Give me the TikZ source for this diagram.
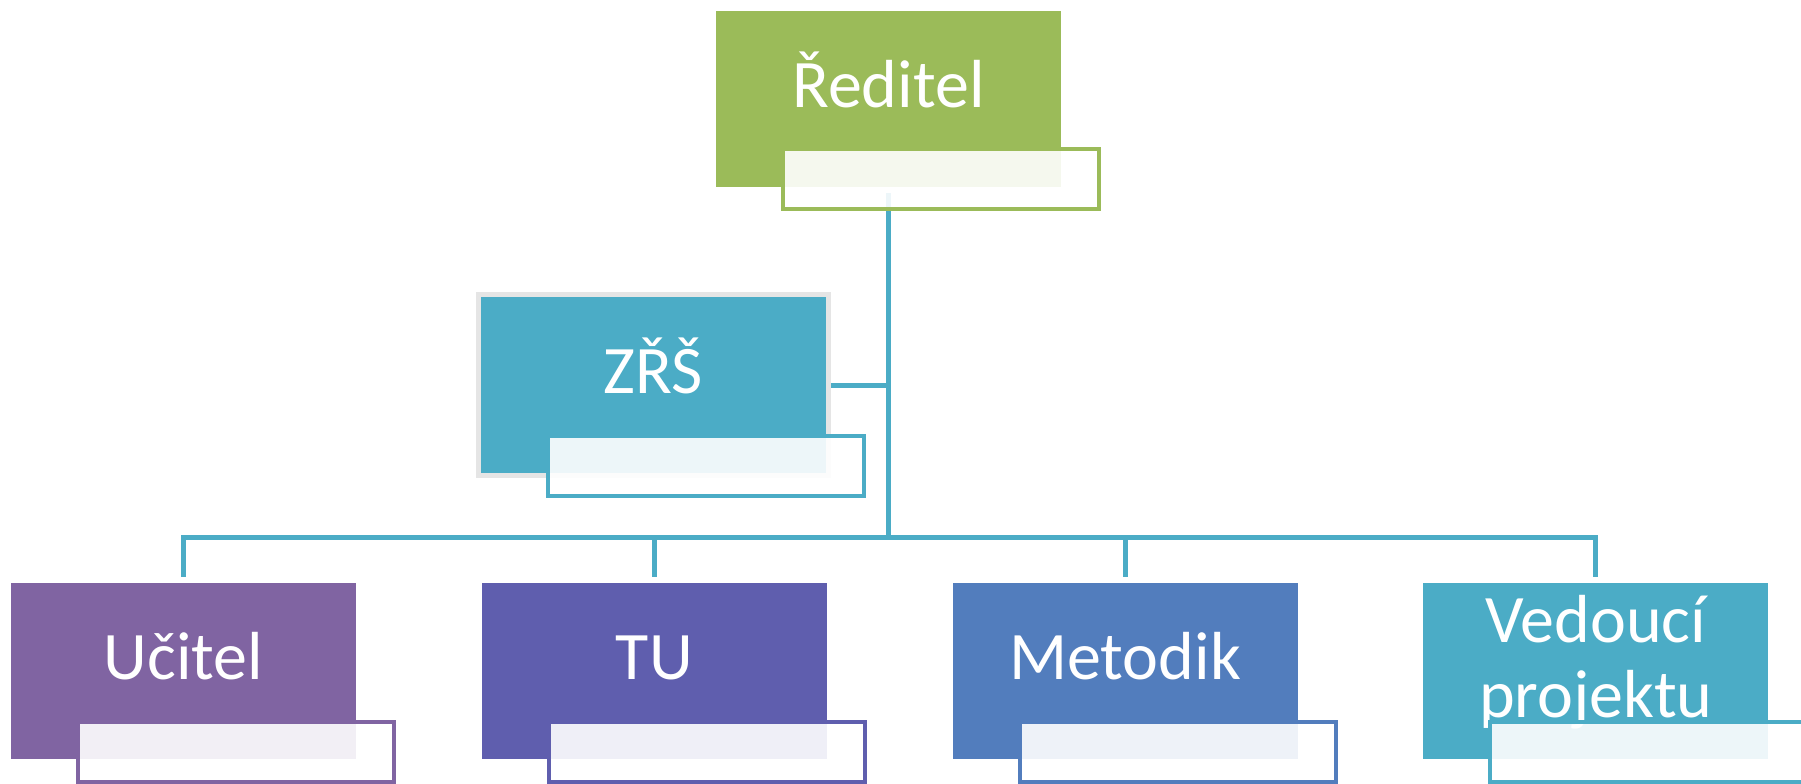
\documentclass[tikz,border=0pt]{standalone}
\usepackage{fontspec}
\setmainfont{Carlito}
\usetikzlibrary{positioning}
\definecolor{grn}{HTML}{9BBB59}
\definecolor{lnk}{HTML}{4BACC6}
\definecolor{purp}{HTML}{8064A2}
\definecolor{indg}{HTML}{5F5EAE}
\definecolor{blu}{HTML}{527DBD}

\begin{document}
\begin{tikzpicture}[x=0.5pt, y=0.5pt, node distance=62.5pt,
    post/.style={rectangle, fill=#1, text=white, inner sep=0pt, minimum width=172.5pt, minimum height=88pt,
      font=\fontsize{34}{37.5}\selectfont, text height=20pt, text depth=11.5pt},
    tag/.style={rectangle, draw=#1, line width=2pt, fill=white, fill opacity=0.9, draw opacity=1,
      minimum width=158pt, minimum height=30pt, inner sep=0pt},
    link/.style={draw=lnk, line width=2.5pt}]
    \useasboundingbox (0,0) rectangle (1801,-783);

    % posts
    \node[post=grn] (reditel) at (888.5,-98.5) {Ředitel};
    \node[post=lnk, draw=black!10, line width=2.5pt, minimum width=175pt, minimum height=90.5pt] (zrs) at (653.5,-385) {ZŘŠ};
    \node[post=purp] (ucitel) at (183.5,-671) {Učitel};
    \node[post=indg, right=of ucitel] (tu) {TU};
    \node[post=blu, right=of tu] (metodik) {Metodik};
    \node[post=lnk, right=of metodik, align=center, text height=57.5pt] (vedouci) {Vedoucí\\projektu};

    % connectors
    \coordinate (hub) at (888.5,-537);
    \draw[link] ([yshift=-3pt]reditel.south) -- (hub);
    \draw[link] (zrs.east) -- (zrs.east -| hub);
    \draw[link] ([yshift=3pt]ucitel.north) |- (hub) -| ([yshift=3pt]vedouci.north);
    \draw[link] ([yshift=3pt]tu.north) -- (tu.north |- hub);
    \draw[link] ([yshift=3pt]metodik.north) -- (metodik.north |- hub);

    % tags
    \node[tag=grn] (reditel-tag) at ([shift={(52.5,-80.5)}]reditel.center) {};
    \node[tag=lnk] (zrs-tag) at ([shift={(52.5,-80.5)}]zrs.center) {};
    \node[tag=purp] (ucitel-tag) at ([shift={(52.5,-80.5)}]ucitel.center) {};
    \node[tag=indg] (tu-tag) at ([shift={(52.5,-80.5)}]tu.center) {};
    \node[tag=blu] (metodik-tag) at ([shift={(52.5,-80.5)}]metodik.center) {};
    \node[tag=lnk] (vedouci-tag) at ([shift={(52.5,-80.5)}]vedouci.center) {};
\end{tikzpicture}
\end{document}
